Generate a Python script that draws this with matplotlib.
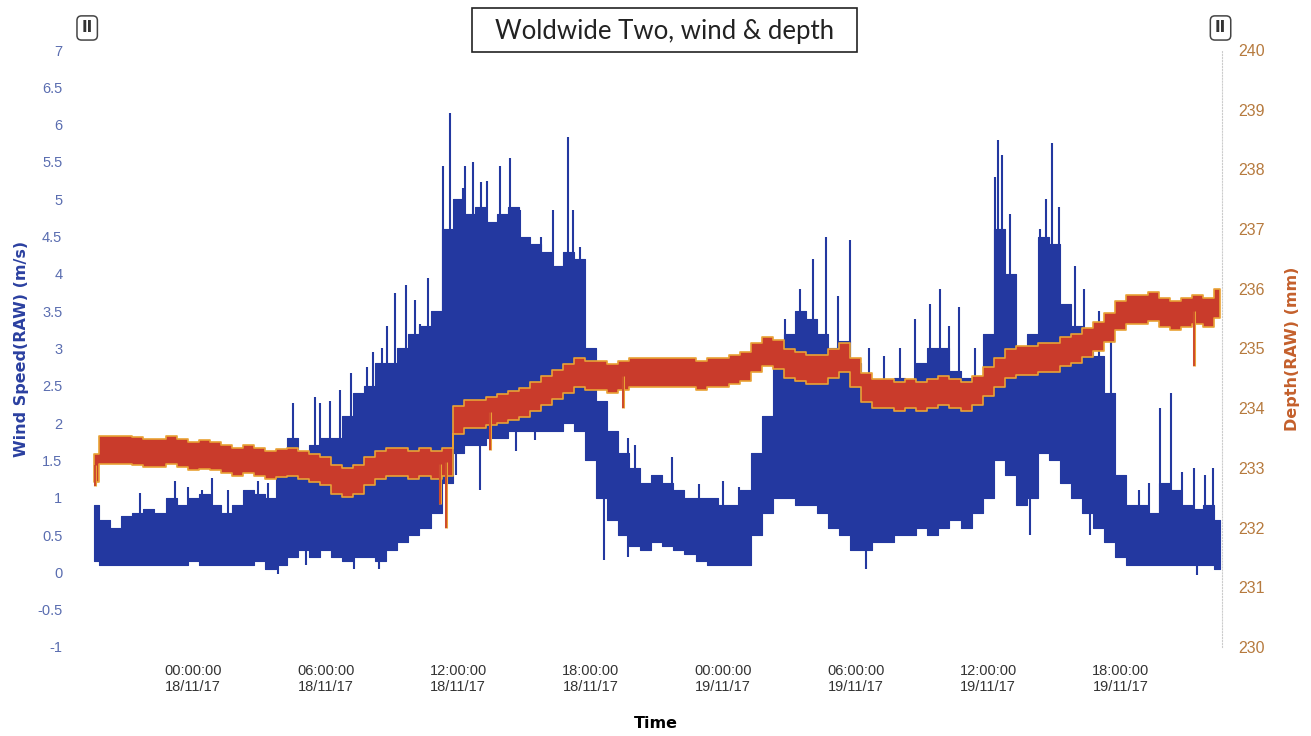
import numpy as np
import pandas as pd
import matplotlib
matplotlib.use("Agg")
import matplotlib.pyplot as plt
import matplotlib.dates as mdates
from matplotlib.patches import Rectangle
from matplotlib.ticker import FormatStrFormatter, MultipleLocator

# half-hourly readings, 17/11/17 19:30 -> 19/11/17 22:30
times = pd.date_range("2017-11-17 19:30", "2017-11-19 22:30", freq="30min")

# wind speed band (m/s): bottom and top of the dense trace
wind_lo = [0.15, 0.1, 0.1, 0.1, 0.1, 0.1, 0.1, 0.1, 0.1,
           0.15, 0.1, 0.1, 0.1, 0.1, 0.1, 0.15, 0.05,
           0.1, 0.2, 0.3, 0.2, 0.3, 0.2, 0.15, 0.2,
           0.2, 0.15, 0.3, 0.4, 0.5, 0.6, 0.8, 1.2,
           1.6, 1.7, 1.7, 1.8, 1.8, 1.9, 1.9, 1.9,
           1.9, 1.9, 2.0, 1.9, 1.5, 1.0, 0.7, 0.5,
           0.35, 0.3, 0.4, 0.35, 0.3, 0.25, 0.15, 0.1,
           0.1, 0.1, 0.1, 0.5, 0.8, 1.0, 1.0, 0.9,
           0.9, 0.8, 0.6, 0.5, 0.3, 0.3, 0.4, 0.4,
           0.5, 0.5, 0.6, 0.5, 0.6, 0.7, 0.6, 0.8,
           1.0, 1.5, 1.3, 0.9, 1.0, 1.6, 1.5, 1.2,
           1.0, 0.8, 0.6, 0.4, 0.2, 0.1, 0.1, 0.1,
           0.1, 0.1, 0.1, 0.1, 0.1, 0.05]
wind_hi = [0.9, 0.7, 0.6, 0.75, 0.8, 0.85, 0.8, 1.0, 0.9,
           1.0, 1.05, 0.9, 0.8, 0.9, 1.1, 1.05, 1.0,
           1.4, 1.8, 1.6, 1.7, 1.8, 1.8, 2.1, 2.4,
           2.5, 2.8, 2.8, 3.0, 3.2, 3.3, 3.5, 4.6,
           5.0, 4.8, 4.9, 4.7, 4.8, 4.9, 4.5, 4.4,
           4.3, 4.1, 4.3, 4.2, 3.0, 2.3, 1.9, 1.6,
           1.4, 1.2, 1.3, 1.2, 1.1, 1.0, 1.0, 1.0,
           0.9, 0.9, 1.1, 1.6, 2.1, 2.8, 3.2, 3.5,
           3.4, 3.2, 3.0, 3.1, 2.8, 2.6, 2.2, 2.4,
           2.6, 2.5, 2.8, 3.0, 3.0, 2.7, 2.6, 2.5,
           3.2, 4.6, 4.0, 2.8, 3.2, 4.5, 4.4, 3.6,
           3.3, 3.0, 2.9, 2.4, 1.3, 0.9, 0.9, 0.8,
           1.2, 1.1, 0.9, 0.85, 0.9, 0.7]

# isolated wind gusts / drops (hours after 18/11/17 00:00, m/s)
gust_hours = [-2.4, -0.8, -0.25, 0.4, 0.85, 1.6, 2.95, 3.4,
              4.52, 5.52, 5.75, 6.2, 6.65, 7.15, 7.56, 7.87, 8.14, 8.55, 8.78,
              9.14, 9.64, 10.05, 10.27, 10.63, 11.3, 11.63,
              12.2, 12.3, 12.67, 13.05, 13.3, 13.9, 14.34, 14.8, 15.3, 15.75,
              16.3, 16.97, 17.2, 17.5,
              18.8, 19.7, 20.0, 21.7, 22.9, 24.0, 24.7,
              26.8, 27.47, 28.05, 28.64, 29.2, 29.73, 30.6, 31.3, 32.0,
              32.67, 33.35, 33.8, 34.25, 34.7, 35.4,
              36.29, 36.43, 36.65, 36.97, 38.33, 38.6, 38.87, 39.23, 39.95,
              40.36, 41.04, 41.58, 42.85, 43.3, 43.76, 44.3, 44.8, 45.34,
              45.8, 46.2]
gust_vals = [1.06, 1.23, 1.14, 1.1, 1.27, 1.1, 1.23, 1.2,
             2.27, 2.35, 2.27, 2.3, 2.45, 2.67, 2.13, 2.75, 2.95, 3.0, 3.3,
             3.75, 3.85, 3.65, 3.33, 3.95, 5.45, 6.15,
             5.15, 5.45, 5.5, 5.23, 5.25, 5.45, 5.55, 4.85, 4.36, 4.5,
             4.86, 5.83, 4.85, 4.36,
             1.8, 1.8, 1.7, 1.54, 1.19, 1.23, 1.14,
             3.4, 3.8, 4.2, 4.5, 3.7, 4.45, 3.0, 2.9, 3.0,
             3.4, 3.6, 3.8, 3.3, 3.55, 3.0,
             5.3, 5.8, 5.6, 4.8, 4.6, 5.0, 5.75, 4.9, 4.1,
             3.8, 3.5, 3.3, 1.1, 1.2, 2.2, 2.4, 1.35, 1.4,
             1.3, 1.4]
drop_hours = [3.85, 5.1, 7.3, 8.4, 11.9, 12.99, 14.6, 15.5, 18.6, 19.7,
              30.45, 37.9, 40.6, 45.48]
drop_vals = [-0.02, 0.1, 0.05, 0.05, 1.3, 1.1, 1.63, 1.77, 0.16, 0.2,
             0.05, 0.5, 0.5, -0.04]

# depth (mm): centre of the trace
depth_mid = [233.0, 233.3, 233.3, 233.3, 233.28, 233.25, 233.25, 233.3, 233.25,
             233.2, 233.22, 233.2, 233.15, 233.1, 233.15, 233.1, 233.05,
             233.08, 233.1, 233.05, 233.0, 232.95, 232.8, 232.75, 232.8,
             232.95, 233.05, 233.1, 233.1, 233.05, 233.1, 233.05, 233.1,
             233.8, 233.9, 233.9, 233.95, 234.0, 234.05, 234.1, 234.2,
             234.3, 234.4, 234.5, 234.6, 234.55, 234.55, 234.5, 234.55,
             234.6, 234.6, 234.6, 234.6, 234.6, 234.6, 234.55, 234.6,
             234.6, 234.65, 234.7, 234.85, 234.95, 234.9, 234.75, 234.7,
             234.65, 234.65, 234.75, 234.85, 234.6, 234.35, 234.25, 234.25,
             234.2, 234.25, 234.2, 234.25, 234.3, 234.25, 234.2, 234.3,
             234.45, 234.6, 234.75, 234.8, 234.8, 234.85, 234.85, 234.95,
             235.0, 235.1, 235.2, 235.35, 235.55, 235.65, 235.65, 235.7,
             235.6, 235.55, 235.6, 235.65, 235.6, 235.75]
depth_spread = 0.24
depth_spike_hours = [-4.43, 11.18, 11.45, 13.44, 19.46, 45.34]
depth_spike_vals = [232.7, 232.4, 232.0, 233.3, 234.0, 234.7]

tick_labels_fmt = "%H:%M:%S\n%d/%m/%y"

blue = "#2338a0"
red = "#c93b2b"
orange = "#e9a235"

base = pd.Timestamp("2017-11-18 00:00")
gust_t = base + pd.to_timedelta(gust_hours, unit="h")
drop_t = base + pd.to_timedelta(drop_hours, unit="h")
dspike_t = base + pd.to_timedelta(depth_spike_hours, unit="h")

wind_lo = np.array(wind_lo)
wind_hi = np.array(wind_hi)
depth_mid = np.array(depth_mid)

fig, ax = plt.subplots(figsize=(13.11, 7.36), dpi=100)
fig.subplots_adjust(left=0.0687, right=0.932, bottom=0.121, top=0.932)

tnum = mdates.date2num(times)

# wind speed
ax.fill_between(times, wind_lo, wind_hi, step="mid", color=blue, lw=0.8)
ax.vlines(gust_t, np.interp(mdates.date2num(gust_t), tnum, wind_lo + 0.3), gust_vals,
          color=blue, lw=1.5)
ax.vlines(drop_t, drop_vals, np.interp(mdates.date2num(drop_t), tnum, wind_hi - 0.3),
          color=blue, lw=1.5)

ax.set_ylim(-1, 7)
ax.yaxis.set_major_locator(MultipleLocator(0.5))
ax.yaxis.set_major_formatter(FormatStrFormatter("%g"))
ax.tick_params(axis="y", colors="#5a6db0", labelsize=10.5, length=0, pad=20)
ax.set_ylabel("Wind Speed(RAW) (m/s)", color="#2b40a0", fontsize=11.5,
              fontweight="bold", labelpad=6)

# depth
ax2 = ax.twinx()
ax2.fill_between(times, depth_mid - depth_spread, depth_mid + depth_spread, step="mid",
                 facecolor=red, edgecolor=orange, lw=1.2)
dbase = np.interp(mdates.date2num(dspike_t), tnum, depth_mid)
ax2.vlines(dspike_t, dbase, depth_spike_vals, color=orange, lw=2.2)
ax2.vlines(dspike_t, dbase, depth_spike_vals, color=red, lw=1.2)
ax2.set_ylim(230, 240)
ax2.yaxis.set_major_locator(MultipleLocator(1))
ax2.tick_params(axis="y", colors="#b67a3e", labelsize=11.5, length=0, pad=12)
ax2.set_ylabel("Depth(RAW) (mm)", color="#c4602c", fontsize=11.5,
               fontweight="bold", labelpad=14)

ax.set_xlim(pd.Timestamp("2017-11-17 19:20"), pd.Timestamp("2017-11-19 22:35"))
ax.xaxis.set_major_locator(mdates.HourLocator(byhour=[0, 6, 12, 18]))
ax.xaxis.set_major_formatter(mdates.DateFormatter(tick_labels_fmt))
ax.tick_params(axis="x", colors="#333333", labelsize=10.5, length=0, pad=12)
for lab in ax.get_xticklabels():
    lab.set_family("Liberation Sans")
for lab in ax.get_yticklabels() + ax2.get_yticklabels():
    lab.set_family("Liberation Sans")
ax.set_xlabel("Time", fontsize=11.5, fontweight="bold", labelpad=16)

for a in (ax, ax2):
    for s in a.spines.values():
        s.set_visible(False)
ax2.spines["right"].set_visible(True)
ax2.spines["right"].set_linestyle(":")
ax2.spines["right"].set_color("#cccccc")
ax2.spines["right"].set_linewidth(0.8)

# boxed title
fig.patches.append(Rectangle((0.360, 0.9293), 0.2937, 0.0598, transform=fig.transFigure,
                             fc="white", ec="#222222", lw=1.2))
fig.text(0.507, 0.957, "Woldwide Two, wind & depth", ha="center", va="center",
         fontsize=18.5, family="Lato", color="#222222")
for xf in (0.0665, 0.931):
    fig.text(xf, 0.962, "II", ha="center", va="center", fontsize=11, color="#333333",
             fontweight="bold",
             bbox=dict(boxstyle="round,pad=0.3", fc="white", ec="#444444", lw=1.1))

fig.savefig("out.png", dpi=100)
